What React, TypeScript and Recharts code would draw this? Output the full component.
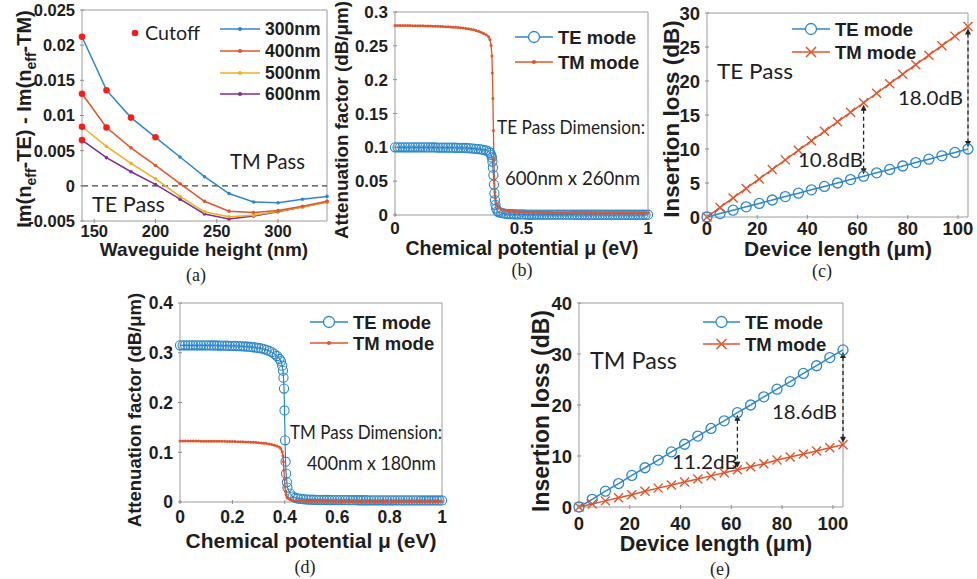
import React from 'react';
import { ComposedChart, LineChart, Line, XAxis, YAxis, ReferenceLine, ReferenceArea, Scatter } from 'recharts';

const W = 977;
const H = 579;
const BLUE = '#2D87CC';
const ORANGE = '#E0552A';
const YELLOW = '#EDB120';
const PURPLE = '#7E2F8E';
const FONT = '"Liberation Sans", Arial, sans-serif';
const NOTE_FONT = 'Lato, "Open Sans", sans-serif';
const SERIF = '"Liberation Serif", "Times New Roman", serif';
const INK = '#1e1e1e';

// ---------- (a) ----------
const heights = [140, 160, 180, 200, 220, 240, 260, 280, 300, 320, 340];
const w300 = [0.0212, 0.0136, 0.0097, 0.0069, 0.0041, 0.0013, -0.0011, -0.0023, -0.0024, -0.0019, -0.0015];
const w400 = [0.0131, 0.0083, 0.0054, 0.0029, 0.0003, -0.0022, -0.0036, -0.0038, -0.0035, -0.0029, -0.0022];
const w500 = [0.0084, 0.0056, 0.0032, 0.001, -0.0015, -0.0037, -0.0044, -0.0042, -0.0036, -0.003, -0.0023];
const w600 = [0.0065, 0.004, 0.002, 0.0002, -0.0019, -0.004, -0.0047, -0.0043, -0.0037, -0.003, -0.0023];
const cutoffH = [140, 160, 180, 200, 140, 160, 140, 140];
const cutoffV = [0.0212, 0.0136, 0.0097, 0.0069, 0.0131, 0.0083, 0.0084, 0.0065];
const xTicksA = [150, 200, 250, 300];
const yTicksA = [-0.005, 0, 0.005, 0.01, 0.015, 0.02, 0.025];

// ---------- (b) ----------
const muB = [
  0, 0.01, 0.02, 0.03, 0.04, 0.05, 0.06, 0.07, 0.08, 0.09,
  0.1, 0.11, 0.12, 0.13, 0.14, 0.15, 0.16, 0.17, 0.18, 0.19,
  0.2, 0.21, 0.22, 0.23, 0.24, 0.25, 0.26, 0.27, 0.28, 0.29,
  0.3, 0.31, 0.32, 0.33, 0.34, 0.35, 0.36, 0.37,
  0.375, 0.38, 0.383, 0.385, 0.387, 0.389, 0.391, 0.393, 0.395, 0.397, 0.4, 0.405,
  0.41, 0.42, 0.43, 0.44, 0.45, 0.46, 0.47, 0.48, 0.49, 0.5,
  0.51, 0.52, 0.53, 0.54, 0.55, 0.56, 0.57, 0.58, 0.59, 0.6,
  0.61, 0.62, 0.63, 0.64, 0.65, 0.66, 0.67, 0.68, 0.69, 0.7,
  0.71, 0.72, 0.73, 0.74, 0.75, 0.76, 0.77, 0.78, 0.79, 0.8,
  0.81, 0.82, 0.83, 0.84, 0.85, 0.86, 0.87, 0.88, 0.89, 0.9,
  0.91, 0.92, 0.93, 0.94, 0.95, 0.96, 0.97, 0.98, 0.99, 1,
];
const teB = [
  0.1, 0.1, 0.1, 0.1, 0.1, 0.1, 0.1, 0.1, 0.1, 0.1,
  0.1, 0.0999, 0.0999, 0.0999, 0.0998, 0.0998, 0.0998, 0.0997, 0.0997, 0.0997,
  0.0996, 0.0996, 0.0995, 0.0995, 0.0994, 0.0993, 0.0992, 0.0991, 0.099, 0.0988,
  0.0984, 0.0981, 0.0978, 0.0974, 0.0969, 0.0962, 0.0953, 0.094,
  0.092, 0.089, 0.085, 0.079, 0.07, 0.059, 0.045, 0.032, 0.022, 0.015, 0.0095, 0.0058,
  0.004, 0.003, 0.0023, 0.0018, 0.0015, 0.0013, 0.0011, 0.001, 0.0009, 0.0008,
  0.0008, 0.0007, 0.0007, 0.0007, 0.0006, 0.0006, 0.0006, 0.0006, 0.0005, 0.0005,
  0.0005, 0.0005, 0.0005, 0.0005, 0.0005, 0.0005, 0.0005, 0.0005, 0.0005, 0.0005,
  0.0004, 0.0004, 0.0004, 0.0004, 0.0004, 0.0004, 0.0004, 0.0004, 0.0004, 0.0004,
  0.0004, 0.0004, 0.0004, 0.0004, 0.0004, 0.0004, 0.0004, 0.0004, 0.0004, 0.0004,
  0.0004, 0.0004, 0.0004, 0.0004, 0.0004, 0.0004, 0.0004, 0.0004, 0.0004, 0.0004,
];
const tmB = [
  0.28, 0.28, 0.28, 0.28, 0.28, 0.2799, 0.2799, 0.2798, 0.2798, 0.2797,
  0.2796, 0.2795, 0.2794, 0.2793, 0.2792, 0.2791, 0.279, 0.2788, 0.2787, 0.2785,
  0.2783, 0.2781, 0.2779, 0.2776, 0.2773, 0.277, 0.2766, 0.2762, 0.2757, 0.2751,
  0.2744, 0.2736, 0.2726, 0.2714, 0.27, 0.2683, 0.2662, 0.2635,
  0.2595, 0.2505, 0.235, 0.21, 0.172, 0.125, 0.082, 0.052, 0.034, 0.025, 0.018, 0.0135,
  0.011, 0.0086, 0.0073, 0.0064, 0.0058, 0.0054, 0.005, 0.0048, 0.0046, 0.0044,
  0.0043, 0.0042, 0.0041, 0.004, 0.0039, 0.0039, 0.0038, 0.0038, 0.0037, 0.0037,
  0.0036, 0.0036, 0.0035, 0.0035, 0.0035, 0.0034, 0.0034, 0.0034, 0.0033, 0.0033,
  0.0033, 0.0033, 0.0032, 0.0032, 0.0032, 0.0032, 0.0031, 0.0031, 0.0031, 0.0031,
  0.0031, 0.003, 0.003, 0.003, 0.003, 0.003, 0.003, 0.003, 0.0029, 0.0029,
  0.0029, 0.0029, 0.0029, 0.0029, 0.0029, 0.0029, 0.0029, 0.0029, 0.0029, 0.0029,
];
const xTicksB = [0, 0.5, 1];
const yTicksB = [0, 0.05, 0.1, 0.15, 0.2, 0.25, 0.3];

// ---------- (c) & (e) ----------
const lenX = [0, 5.2, 10.4, 15.6, 20.8, 26, 31.2, 36.4, 41.6, 46.8, 52, 57.2, 62.4, 67.6, 72.8, 78, 83.2, 88.4, 93.6, 98.8, 104];
const teC = [0, 0.5, 1, 1.5, 2, 2.5, 3, 3.5, 4, 4.5, 5, 5.5, 6, 6.5, 7, 7.5, 8, 8.5, 9, 9.5, 10];
const tmC = [0, 1.4, 2.8, 4.2, 5.6, 7, 8.4, 9.8, 11.2, 12.6, 14, 15.4, 16.8, 18.2, 19.6, 21, 22.4, 23.8, 25.2, 26.6, 28];
const teE = [0, 1.5, 3.1, 4.6, 6.2, 7.7, 9.2, 10.8, 12.3, 13.9, 15.4, 16.9, 18.5, 20, 21.6, 23.1, 24.6, 26.2, 27.7, 29.3, 30.8];
const tmE = [0, 0.6, 1.2, 1.8, 2.4, 3.1, 3.7, 4.3, 4.9, 5.5, 6.1, 6.7, 7.3, 7.9, 8.5, 9.2, 9.8, 10.4, 11, 11.6, 12.2];
const xTicksLen = [0, 20, 40, 60, 80, 100];
const yTicksC = [0, 5, 10, 15, 20, 25, 30];
const yTicksE = [0, 10, 20, 30, 40];

// ---------- (d) ----------
const muD = [
  0, 0.01, 0.02, 0.03, 0.04, 0.05, 0.06, 0.07, 0.08, 0.09,
  0.1, 0.11, 0.12, 0.13, 0.14, 0.15, 0.16, 0.17, 0.18, 0.19,
  0.2, 0.21, 0.22, 0.23, 0.24, 0.25, 0.26, 0.27, 0.28, 0.29,
  0.3, 0.31, 0.32, 0.33, 0.34, 0.35, 0.36, 0.37, 0.38,
  0.385, 0.39, 0.393, 0.395, 0.397, 0.399, 0.401, 0.403, 0.405, 0.408,
  0.41, 0.42, 0.43, 0.44, 0.45, 0.46, 0.47, 0.48, 0.49, 0.5,
  0.51, 0.52, 0.53, 0.54, 0.55, 0.56, 0.57, 0.58, 0.59, 0.6,
  0.61, 0.62, 0.63, 0.64, 0.65, 0.66, 0.67, 0.68, 0.69, 0.7,
  0.71, 0.72, 0.73, 0.74, 0.75, 0.76, 0.77, 0.78, 0.79, 0.8,
  0.81, 0.82, 0.83, 0.84, 0.85, 0.86, 0.87, 0.88, 0.89, 0.9,
  0.91, 0.92, 0.93, 0.94, 0.95, 0.96, 0.97, 0.98, 0.99, 1,
];
const teD = [
  0.315, 0.315, 0.315, 0.315, 0.315, 0.315, 0.315, 0.315, 0.3149, 0.3149,
  0.3148, 0.3148, 0.3147, 0.3147, 0.3146, 0.3145, 0.3144, 0.3143, 0.3142, 0.314,
  0.3139, 0.3137, 0.3135, 0.3132, 0.3129, 0.3126, 0.3122, 0.3117, 0.3111, 0.3104,
  0.3096, 0.3086, 0.3073, 0.3057, 0.3037, 0.3012, 0.2978, 0.2935, 0.2875,
  0.283, 0.274, 0.264, 0.25, 0.228, 0.184, 0.124, 0.081, 0.057, 0.04,
  0.029, 0.017, 0.011, 0.0085, 0.007, 0.0062, 0.0056, 0.0052, 0.0049, 0.0047,
  0.0045, 0.0044, 0.0043, 0.0042, 0.0041, 0.004, 0.004, 0.0039, 0.0039, 0.0038,
  0.0038, 0.0037, 0.0037, 0.0037, 0.0036, 0.0036, 0.0036, 0.0035, 0.0035, 0.0035,
  0.0035, 0.0034, 0.0034, 0.0034, 0.0034, 0.0034, 0.0033, 0.0033, 0.0033, 0.0033,
  0.0033, 0.0033, 0.0032, 0.0032, 0.0032, 0.0032, 0.0032, 0.0032, 0.0032, 0.0032,
  0.0032, 0.0031, 0.0031, 0.0031, 0.0031, 0.0031, 0.0031, 0.0031, 0.0031, 0.0031,
];
const tmD = [
  0.1225, 0.1225, 0.1225, 0.1225, 0.1225, 0.1224, 0.1224, 0.1224, 0.1223, 0.1223,
  0.1223, 0.1222, 0.1222, 0.1221, 0.1221, 0.122, 0.1219, 0.1219, 0.1218, 0.1217,
  0.1216, 0.1215, 0.1213, 0.1212, 0.121, 0.1208, 0.1206, 0.1203, 0.12, 0.1197,
  0.1193, 0.1188, 0.1183, 0.1176, 0.1168, 0.1157, 0.1143, 0.1124, 0.1098,
  0.107, 0.101, 0.093, 0.081, 0.064, 0.045, 0.03, 0.021, 0.015, 0.01,
  0.008, 0.0048, 0.0034, 0.0027, 0.0023, 0.002, 0.0018, 0.0017, 0.0016, 0.0015,
  0.0015, 0.0014, 0.0014, 0.0014, 0.0013, 0.0013, 0.0013, 0.0013, 0.0012, 0.0012,
  0.0012, 0.0012, 0.0012, 0.0012, 0.0012, 0.0012, 0.0012, 0.0012, 0.0012, 0.0012,
  0.0011, 0.0011, 0.0011, 0.0011, 0.0011, 0.0011, 0.0011, 0.0011, 0.0011, 0.0011,
  0.0011, 0.0011, 0.0011, 0.0011, 0.0011, 0.0011, 0.0011, 0.0011, 0.0011, 0.0011,
  0.001, 0.001, 0.001, 0.001, 0.001, 0.001, 0.001, 0.001, 0.001, 0.001,
];
const xTicksD = [0, 0.2, 0.4, 0.6, 0.8, 1];
const yTicksD = [0, 0.1, 0.2, 0.3, 0.4];

// ---------- tables built from arrays ----------
const rowsA = heights.map((h, i) => ({ h, s300: w300[i], s400: w400[i], s500: w500[i], s600: w600[i] }));
const cutoffRows = cutoffH.map((h, i) => ({ h, v: cutoffV[i] }));
const rowsB = muB.map((m, i) => ({ m, te: teB[i], tm: tmB[i] }));
const rowsC = lenX.map((L, i) => ({ L, te: teC[i], tm: tmC[i] }));
const rowsD = muD.map((m, i) => ({ m, te: teD[i], tm: tmD[i] }));
const rowsE = lenX.map((L, i) => ({ L, te: teE[i], tm: tmE[i] }));

// ---------- layout ----------
type Box = { l: number; t: number; r: number; b: number };
const YW = 60;
const XH = 30;
const boxA: Box = { l: 82, t: 10, r: 327, b: 221 };
const boxB: Box = { l: 395, t: 12, r: 648, b: 215 };
const boxC: Box = { l: 707, t: 13, r: 968, b: 217 };
const boxD: Box = { l: 180, t: 303, r: 442, b: 502 };
const boxE: Box = { l: 579, t: 303, r: 843, b: 507 };
const marginFor = (b: Box) => ({ top: b.t, left: b.l - YW, right: W - b.r, bottom: H - b.b - XH });

const tickText = (size: number) => ({ fontFamily: FONT, fontWeight: 700, fontSize: size, fill: INK });

const makeXTick = (dy: number, size: number) => (props: any) => {
  const { x, y, payload } = props;
  return (
    <g>
      <line x1={x} x2={x} y1={y} y2={y - 4} stroke="#8c8c8c" strokeWidth={1} />
      <text x={x} y={y + dy} textAnchor="middle" style={tickText(size)}>{String(payload.value)}</text>
    </g>
  );
};
const makeYTick = (size: number) => (props: any) => {
  const { x, y, payload } = props;
  return (
    <g>
      <line x1={x} x2={x + 4} y1={y} y2={y} stroke="#8c8c8c" strokeWidth={1} />
      <text x={x - 5} y={y + size * 0.36} textAnchor="end" style={tickText(size)}>{String(payload.value)}</text>
    </g>
  );
};

const DArrow = (props: any) => {
  const { x1, y1, x2, y2 } = props;
  const x = x1;
  const top = Math.min(y1, y2) + 2;
  const bot = Math.max(y1, y2) - 2;
  return (
    <g>
      <line x1={x} x2={x2} y1={top + 5} y2={bot - 5} stroke="#222" strokeWidth={1.3} strokeDasharray="4 3" />
      <path d={`M${x - 3},${top + 6}L${x},${top}L${x + 3},${top + 6}Z`} fill="#222" />
      <path d={`M${x - 3},${bot - 6}L${x},${bot}L${x + 3},${bot - 6}Z`} fill="#222" />
    </g>
  );
};

const XDot = (p: any) => {
  const { cx, cy, index } = p;
  const s = 4.5;
  return (
    <path
      key={`x-${index}`}
      d={`M${cx - s},${cy - s}L${cx + s},${cy + s}M${cx - s},${cy + s}L${cx + s},${cy - s}`}
      stroke={ORANGE}
      strokeWidth={1.4}
      fill="none"
    />
  );
};

const Abs = ({ children }: { children: React.ReactNode }) => (
  <div style={{ position: 'absolute', left: 0, top: 0 }}>{children}</div>
);

const axisCommon = { tickLine: false, axisLine: false, tickSize: 0, interval: 0 as const };

function PanelA() {
  const dot = (c: string) => ({ r: 1.8, fill: c, stroke: c, strokeWidth: 0 });
  return (
    <ComposedChart width={W} height={H} data={rowsA} margin={marginFor(boxA)}>
      <XAxis dataKey="h" type="number" domain={[140, 340]} ticks={xTicksA} {...axisCommon} tick={makeXTick(14, 16.5)} height={XH} />
      <YAxis type="number" domain={[-0.005, 0.025]} ticks={yTicksA} {...axisCommon} tick={makeYTick(16.5)} width={YW} />
      <ReferenceArea x1={140} x2={340} y1={-0.005} y2={0.025} fill="none" stroke="#9b9b9b" strokeWidth={1} />
      <ReferenceLine y={0} stroke="#444" strokeDasharray="6 4" strokeWidth={1.3} />
      <Line dataKey="s600" stroke={PURPLE} strokeWidth={1.5} dot={dot(PURPLE)} activeDot={false} isAnimationActive={false} />
      <Line dataKey="s500" stroke={YELLOW} strokeWidth={1.5} dot={dot(YELLOW)} activeDot={false} isAnimationActive={false} />
      <Line dataKey="s400" stroke={ORANGE} strokeWidth={1.5} dot={dot(ORANGE)} activeDot={false} isAnimationActive={false} />
      <Line dataKey="s300" stroke={BLUE} strokeWidth={1.5} dot={dot(BLUE)} activeDot={false} isAnimationActive={false} />
      <Scatter
        data={cutoffRows}
        dataKey="v"
        isAnimationActive={false}
        shape={(p: any) => <circle cx={p.cx} cy={p.cy} r={3.3} fill="#ff1a1a" />}
      />
    </ComposedChart>
  );
}

function DensePanel({ rows, box, xTicks, yTicks, yMax, xDy, size }: any) {
  return (
    <LineChart width={W} height={H} data={rows} margin={marginFor(box)}>
      <XAxis dataKey="m" type="number" domain={[0, 1]} ticks={xTicks} {...axisCommon} tick={makeXTick(xDy, size)} height={XH} />
      <YAxis type="number" domain={[0, yMax]} ticks={yTicks} {...axisCommon} tick={makeYTick(size)} width={YW} />
      <ReferenceArea x1={0} x2={1} y1={0} y2={yMax} fill="none" stroke="#9b9b9b" strokeWidth={1} />
      <Line dataKey="te" stroke={BLUE} strokeWidth={1.2} dot={{ r: 4.6, fill: 'none', stroke: BLUE, strokeWidth: 1.1 }} activeDot={false} isAnimationActive={false} />
      <Line dataKey="tm" stroke={ORANGE} strokeWidth={1.3} dot={{ r: 1.5, fill: ORANGE, stroke: ORANGE, strokeWidth: 0 }} activeDot={false} isAnimationActive={false} />
    </LineChart>
  );
}

function LossPanel({ rows, box, yTicks, yMax, te, tm, xDy, size }: any) {
  return (
    <LineChart width={W} height={H} data={rows} margin={marginFor(box)}>
      <XAxis dataKey="L" type="number" domain={[0, 104]} ticks={xTicksLen} {...axisCommon} tick={makeXTick(xDy, size)} height={XH} />
      <YAxis type="number" domain={[0, yMax]} ticks={yTicks} {...axisCommon} tick={makeYTick(size)} width={YW} />
      <ReferenceArea x1={0} x2={104} y1={0} y2={yMax} fill="none" stroke="#9b9b9b" strokeWidth={1} />
      <Line dataKey="te" stroke={BLUE} strokeWidth={1.5} dot={{ r: 5, fill: 'none', stroke: BLUE, strokeWidth: 1.3 }} activeDot={false} isAnimationActive={false} />
      <Line dataKey="tm" stroke={ORANGE} strokeWidth={1.5} dot={XDot} activeDot={false} isAnimationActive={false} />
      <ReferenceLine
        segment={[{ x: lenX[12], y: Math.min(te[12], tm[12]) }, { x: lenX[12], y: Math.max(te[12], tm[12]) }]}
        shape={DArrow}
      />
      <ReferenceLine
        segment={[{ x: lenX[20], y: Math.min(te[20], tm[20]) }, { x: lenX[20], y: Math.max(te[20], tm[20]) }]}
        shape={DArrow}
      />
    </LineChart>
  );
}

function LegItem({ x1, x2, y, color, marker, label, size = 18.5 }: any) {
  const mx = (x1 + x2) / 2;
  const s = 5;
  return (
    <g>
      <line x1={x1} x2={x2} y1={y} y2={y} stroke={color} strokeWidth={1.5} />
      {marker === 'dot' && <circle cx={mx} cy={y} r={2} fill={color} />}
      {marker === 'circle' && <circle cx={mx} cy={y} r={5.5} fill="#fff" stroke={color} strokeWidth={1.3} />}
      {marker === 'x' && (
        <path d={`M${mx - s},${y - s}L${mx + s},${y + s}M${mx - s},${y + s}L${mx + s},${y - s}`} stroke={color} strokeWidth={1.5} />
      )}
      <text x={x2 + 5} y={y + size * 0.36} fontFamily={FONT} fontWeight={700} fontSize={size} fill={INK}>{label}</text>
    </g>
  );
}

function Note({ x, y, w, size, children }: any) {
  return (
    <text x={x} y={y} fontFamily={NOTE_FONT} fontSize={size} fill={INK} textLength={w} lengthAdjust="spacingAndGlyphs">
      {children}
    </text>
  );
}

function XTitle({ x, y, children, size = 19 }: any) {
  return (
    <text x={x} y={y} textAnchor="middle" fontFamily={FONT} fontWeight={700} fontSize={size} fill={INK}>{children}</text>
  );
}
function YTitle({ x, y, children, size = 19 }: any) {
  return (
    <text transform={`translate(${x},${y}) rotate(-90)`} textAnchor="middle" fontFamily={FONT} fontWeight={700} fontSize={size} fill={INK}>
      {children}
    </text>
  );
}
function Caption({ x, y, children }: any) {
  return (
    <text x={x} y={y} textAnchor="middle" fontFamily={SERIF} fontSize={18} fill={INK}>{children}</text>
  );
}

function Overlay() {
  return (
    <svg width={W} height={H} style={{ position: 'absolute', left: 0, top: 0 }}>
      {/* (a) */}
      <YTitle x={31} y={119} size={20}>
        Im(n<tspan dy={5} fontSize={14}>eff</tspan>
        <tspan dy={-5}>-TE) - Im(n</tspan>
        <tspan dy={5} fontSize={14}>eff</tspan>
        <tspan dy={-5}>-TM)</tspan>
      </YTitle>
      <XTitle x={204} y={256} size={19}>Waveguide height (nm)</XTitle>
      <Caption x={196} y={281}>(a)</Caption>
      <circle cx={135} cy={33} r={3.3} fill="#ff1a1a" />
      <Note x={145} y={40} w={55} size={20}>Cutoff</Note>
      <LegItem x1={220} x2={260} y={29} color={BLUE} marker="dot" label="300nm" size={17.5} />
      <LegItem x1={220} x2={260} y={51} color={ORANGE} marker="dot" label="400nm" size={17.5} />
      <LegItem x1={220} x2={260} y={73} color={YELLOW} marker="dot" label="500nm" size={17.5} />
      <LegItem x1={220} x2={260} y={94} color={PURPLE} marker="dot" label="600nm" size={17.5} />
      <Note x={230} y={169} w={75} size={21}>TM Pass</Note>
      <Note x={92} y={212} w={73} size={21}>TE Pass</Note>

      {/* (b) */}
      <YTitle x={348} y={120} size={18.8}>Attenuation factor (dB/μm)</YTitle>
      <XTitle x={522} y={255} size={19.5}>Chemical potential μ (eV)</XTitle>
      <Caption x={522} y={276}>(b)</Caption>
      <LegItem x1={515} x2={553} y={37} color={BLUE} marker="circle" label="TE mode" />
      <LegItem x1={515} x2={553} y={62} color={ORANGE} marker="dot" label="TM mode" />
      <Note x={497} y={134} w={148} size={19}>TE Pass Dimension:</Note>
      <Note x={505} y={185} w={135} size={19}>600nm x 260nm</Note>

      {/* (c) */}
      <YTitle x={679} y={119} size={22.5}>Insertion loss (dB)</YTitle>
      <XTitle x={838} y={256} size={21}>Device length (μm)</XTitle>
      <Caption x={822} y={277}>(c)</Caption>
      <LegItem x1={792} x2={830} y={29} color={BLUE} marker="circle" label="TE mode" />
      <LegItem x1={792} x2={830} y={52} color={ORANGE} marker="x" label="TM mode" />
      <Note x={717} y={79} w={76} size={21}>TE Pass</Note>
      <Note x={798} y={167} w={65} size={20}>10.8dB</Note>
      <Note x={898} y={105} w={65} size={20}>18.0dB</Note>

      {/* (d) */}
      <YTitle x={141} y={410} size={18.5}>Attenuation factor (dB/μm)</YTitle>
      <XTitle x={311} y={548} size={21}>Chemical potential μ (eV)</XTitle>
      <Caption x={305} y={573}>(d)</Caption>
      <LegItem x1={310} x2={348} y={322} color={BLUE} marker="circle" label="TE mode" />
      <LegItem x1={310} x2={348} y={343} color={ORANGE} marker="dot" label="TM mode" />
      <Note x={290} y={439} w={152} size={19}>TM Pass Dimension:</Note>
      <Note x={307} y={470} w={129} size={19}>400nm x 180nm</Note>

      {/* (e) */}
      <YTitle x={549} y={411} size={23}>Insertion loss (dB)</YTitle>
      <XTitle x={716} y={551} size={21.5}>Device length (μm)</XTitle>
      <Caption x={720} y={575}>(e)</Caption>
      <LegItem x1={703} x2={740} y={322} color={BLUE} marker="circle" label="TE mode" />
      <LegItem x1={703} x2={740} y={344} color={ORANGE} marker="x" label="TM mode" />
      <Note x={590} y={369} w={87} size={23}>TM Pass</Note>
      <Note x={672} y={469} w={66} size={20}>11.2dB</Note>
      <Note x={772} y={419} w={65} size={20}>18.6dB</Note>
    </svg>
  );
}

export default function App() {
  return (
    <div style={{ position: 'absolute', left: 0, top: 0, width: W, height: H, background: '#fff', overflow: 'hidden' }}>
      <Abs><PanelA /></Abs>
      <Abs><DensePanel rows={rowsB} box={boxB} xTicks={xTicksB} yTicks={yTicksB} yMax={0.3} xDy={17} size={17} /></Abs>
      <Abs><LossPanel rows={rowsC} box={boxC} yTicks={yTicksC} yMax={30} te={teC} tm={tmC} xDy={16} size={18.5} /></Abs>
      <Abs><DensePanel rows={rowsD} box={boxD} xTicks={xTicksD} yTicks={yTicksD} yMax={0.4} xDy={19} size={17.5} /></Abs>
      <Abs><LossPanel rows={rowsE} box={boxE} yTicks={yTicksE} yMax={40} te={teE} tm={tmE} xDy={21} size={18.5} /></Abs>
      <Overlay />
    </div>
  );
}
